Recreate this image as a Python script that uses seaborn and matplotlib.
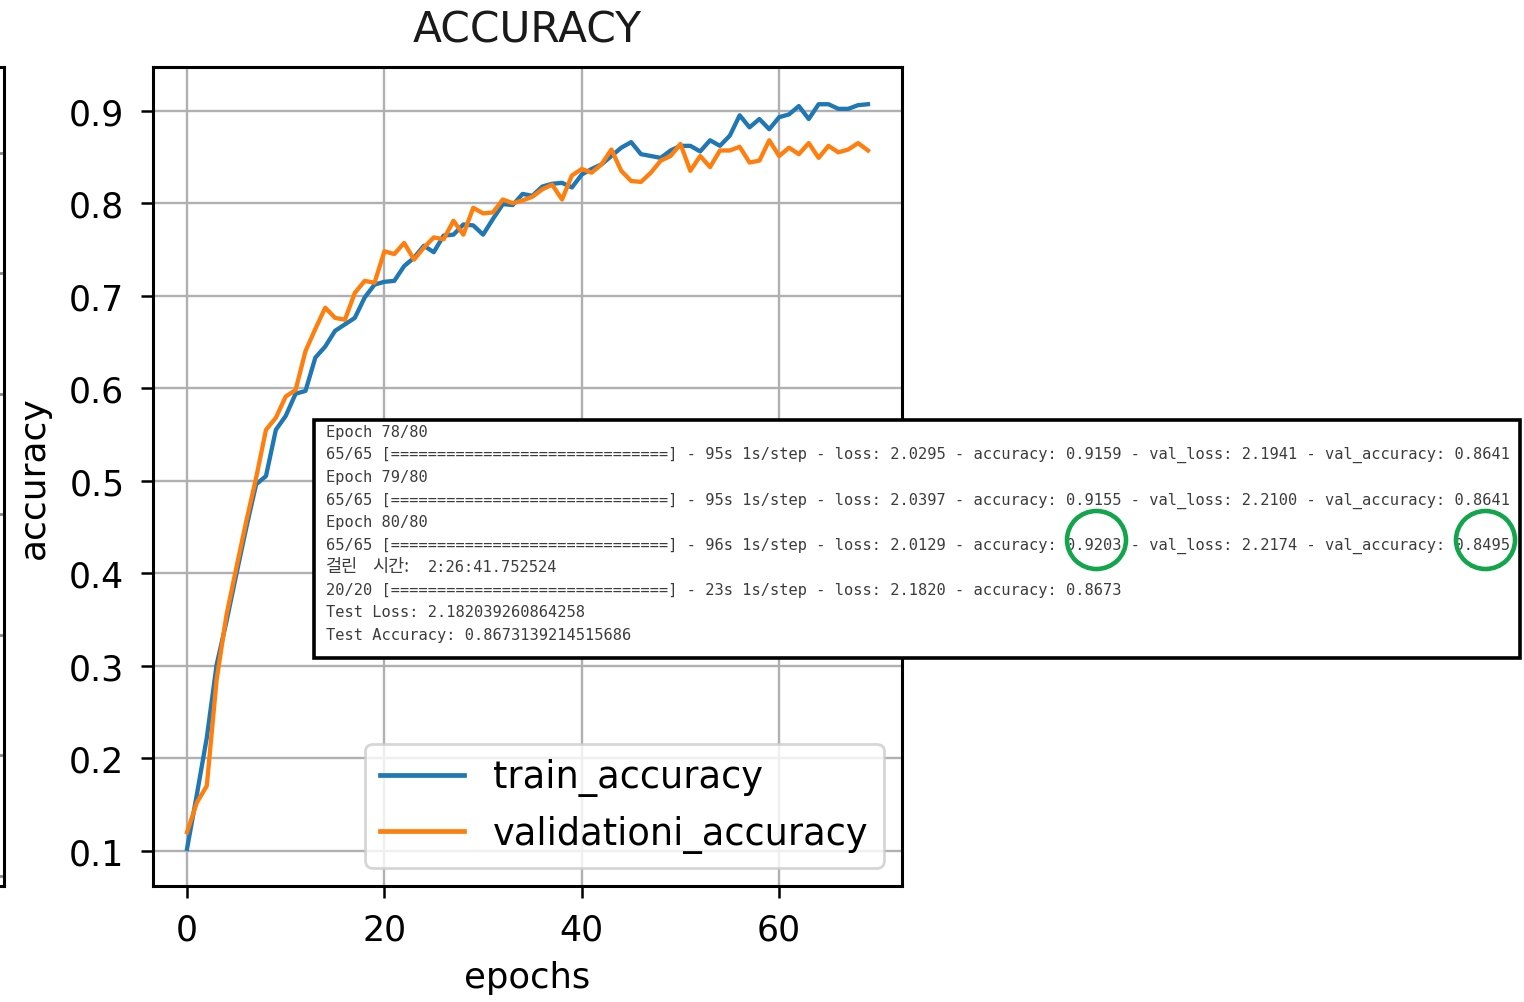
import numpy as np
import pandas as pd
import matplotlib
matplotlib.use("Agg")
import matplotlib.pyplot as plt
import seaborn as sns
from matplotlib.patches import Rectangle, Ellipse

# ---------------- data ----------------
epochs = list(range(70))
train_accuracy = [
    0.102, 0.161, 0.222, 0.301, 0.348, 0.399, 0.449, 0.496, 0.505, 0.555,
    0.570, 0.594, 0.597, 0.633, 0.645, 0.662, 0.669, 0.676, 0.698, 0.712,
    0.715, 0.716, 0.732, 0.741, 0.754, 0.747, 0.765, 0.766, 0.777, 0.776,
    0.766, 0.783, 0.799, 0.798, 0.810, 0.808, 0.818, 0.821, 0.822, 0.817,
    0.831, 0.837, 0.842, 0.851, 0.860, 0.866, 0.853, 0.851, 0.849, 0.857,
    0.862, 0.862, 0.856, 0.868, 0.862, 0.873, 0.895, 0.882, 0.891, 0.880,
    0.893, 0.896, 0.905, 0.891, 0.907, 0.907, 0.902, 0.902, 0.906, 0.907,
]
validation_accuracy = [
    0.120, 0.152, 0.170, 0.285, 0.355, 0.406, 0.456, 0.503, 0.555, 0.568,
    0.591, 0.598, 0.640, 0.664, 0.687, 0.676, 0.674, 0.703, 0.716, 0.714,
    0.748, 0.745, 0.757, 0.739, 0.752, 0.763, 0.761, 0.781, 0.766, 0.795,
    0.789, 0.790, 0.804, 0.800, 0.803, 0.807, 0.815, 0.820, 0.804, 0.830,
    0.837, 0.833, 0.842, 0.858, 0.835, 0.824, 0.823, 0.833, 0.846, 0.851,
    0.864, 0.835, 0.851, 0.839, 0.857, 0.857, 0.861, 0.844, 0.846, 0.868,
    0.851, 0.860, 0.853, 0.865, 0.849, 0.862, 0.855, 0.858, 0.865, 0.857,
]
series_labels = ["train_accuracy", "validationi_accuracy"]
series_colors = ["#1f77b4", "#ff7f0e"]

title_text = "ACCURACY"
xlabel_text = "epochs"
ylabel_text = "accuracy"

# console lines; the Korean line is split into (text, cell column, korean?) pieces
console_lines = [
    "Epoch 78/80",
    "65/65 [==============================] - 95s 1s/step - loss: 2.0295 - accuracy: 0.9159 - val_loss: 2.1941 - val_accuracy: 0.8641",
    "Epoch 79/80",
    "65/65 [==============================] - 95s 1s/step - loss: 2.0397 - accuracy: 0.9155 - val_loss: 2.2100 - val_accuracy: 0.8641",
    "Epoch 80/80",
    "65/65 [==============================] - 96s 1s/step - loss: 2.0129 - accuracy: 0.9203 - val_loss: 2.2174 - val_accuracy: 0.8495",
    [("걸린", 0, True), ("시간:", 5, True), ("2:26:41.752524", 11, False)],
    "20/20 [==============================] - 23s 1s/step - loss: 2.1820 - accuracy: 0.8673",
    "Test Loss: 2.182039260864258",
    "Test Accuracy: 0.8673139214515686",
]

# ---------------- figure ----------------
W, H = 1524, 1003
plt.rcParams["font.family"] = ["DejaVu Sans"]
fig = plt.figure(figsize=(W / 100, H / 100), dpi=100, facecolor="white")


def fx(px):
    return px / W


def fy(py):
    return 1 - py / H


# partial neighbouring axes at the left edge (only its right border shows)
axl = fig.add_axes([fx(-600), fy(887), (4 + 600) / W, (887 - 68) / H])
axl.set_xlim(0, 1)
axl.set_ylim(-0.083, 6.71)
axl.set_yticks(range(7))
axl.set_xticks([])
axl.tick_params(left=False, labelleft=False, bottom=False, labelbottom=False)
axl.grid(True, axis="y", color="#8a8a8a", lw=2.0)
for s in axl.spines.values():
    s.set_color("black")
    s.set_linewidth(2.2)

# main axes
ax = fig.add_axes([fx(153), fy(887), (902 - 153) / W, (887 - 68) / H])
df = pd.DataFrame({
    "epoch": epochs + epochs,
    "accuracy": train_accuracy + validation_accuracy,
    "series": [series_labels[0]] * len(epochs) + [series_labels[1]] * len(epochs),
})
sns.lineplot(data=df, x="epoch", y="accuracy", hue="series",
             palette=dict(zip(series_labels, series_colors)),
             estimator=None, linewidth=3.1, ax=ax)
for ln in ax.get_lines():
    ln.set_linewidth(3.1)

ax.grid(True, color="#b0b0b0", lw=1.7)
ax.set_axisbelow(True)
for s in ax.spines.values():
    s.set_color("black")
    s.set_linewidth(2.2)
ax.tick_params(axis="both", labelsize=25, length=8.6, width=1.8, pad=12, colors="black")
ax.tick_params(axis="x", pad=10.5)
ax.set_xticks([0, 20, 40, 60])
ax.set_yticks([0.1, 0.2, 0.3, 0.4, 0.5, 0.6, 0.7, 0.8, 0.9])
ax.set_title(title_text, fontsize=30.5, pad=18, color="#1a1a1a")
ax.set_xlabel(xlabel_text, fontsize=25.5, labelpad=10)
ax.set_ylabel(ylabel_text, fontsize=26, labelpad=13)

handles, labels = ax.get_legend_handles_labels()
leg = ax.legend(handles, labels, loc="lower right", fontsize=26.5,
                handlelength=2.28, framealpha=0.8, edgecolor="0.8",
                fancybox=True)
leg.get_frame().set_linewidth(2.0)
for hl in leg.get_lines():
    hl.set_linewidth(3.4)

# ---------------- console overlay ----------------
box = Rectangle((fx(313.5), fy(658.5)), (1520 - 313.5) / W, (658.5 - 421) / H,
                transform=fig.transFigure, facecolor="white", edgecolor="black",
                lw=2.6, zorder=5)
fig.add_artist(box)

mono = ["DejaVu Sans Mono", "Noto Sans CJK KR", "DejaVu Sans"]
kor = ["Noto Sans CJK KR", "DejaVu Sans"]
cell = 9.28
fs = 11.1
txt_color = "#3c3c3c"
for i, line in enumerate(console_lines):
    base = 436.6 + 22.6 * i
    if isinstance(line, list):
        for piece, col, is_kor in line:
            fig.text(fx(326 + col * cell), fy(base), piece,
                     family=kor if is_kor else mono,
                     fontsize=12.6 if is_kor else fs,
                     color=txt_color, va="baseline", ha="left", zorder=6)
    else:
        fig.text(fx(326), fy(base), line, family=mono, fontsize=fs,
                 color=txt_color, va="baseline", ha="left", zorder=6)

for cx in (1096.5, 1485.5):
    e = Ellipse((fx(cx), fy(541)), 59 / W, 58 / H, transform=fig.transFigure,
                facecolor="none", edgecolor="#13a54b", lw=3.3, zorder=7)
    fig.add_artist(e)

fig.savefig("out.png", dpi=100, facecolor="white")
